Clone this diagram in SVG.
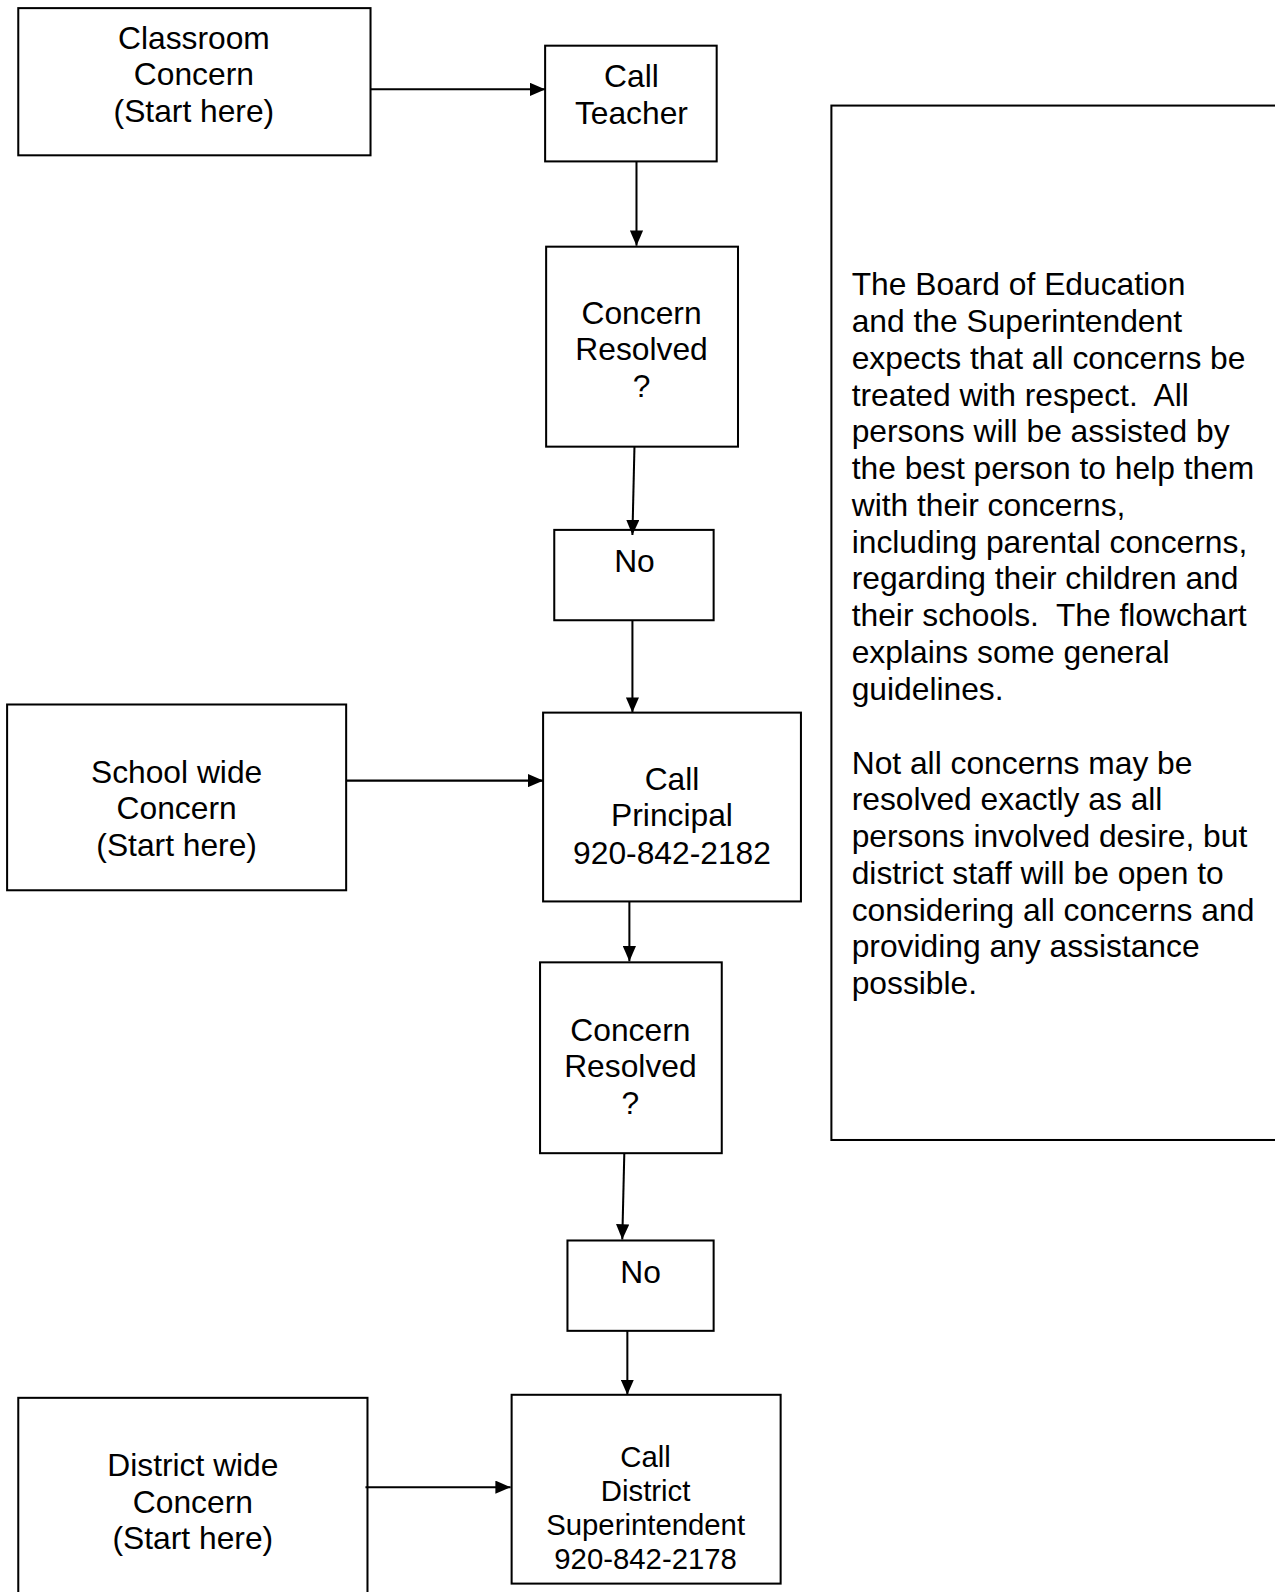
<svg xmlns="http://www.w3.org/2000/svg" width="1275" height="1592" viewBox="0 0 1275 1592">
<style>
.box{fill:#fff;stroke:#000;stroke-width:2}
.t{font-family:"Liberation Sans",Arial,sans-serif;font-size:31.3px;fill:#000;text-anchor:middle}
.s{font-size:28.9px}
.p{font-family:"Liberation Sans",Arial,sans-serif;font-size:31.3px;fill:#000;white-space:pre}
.c{stroke:#000;stroke-width:2;fill:none;marker-end:url(#ah)}
</style>
<defs>
<marker id="ah" markerWidth="15" markerHeight="13" refX="15" refY="6.5" orient="auto" markerUnits="userSpaceOnUse"><path d="M0,0 L15,6.5 L0,13 z" fill="#000"/></marker>
</defs>
<rect width="1275" height="1592" fill="#fff"/>
<g transform="scale(1.01513)">
<g id="classroom"><rect class="box" x="18" y="8" width="347" height="145"/>
<text class="t" x="191" y="48">Classroom</text><text class="t" x="191" y="84">Concern</text><text class="t" x="191" y="120">(Start here)</text></g>
<g id="teacher"><rect class="box" x="537" y="45" width="169" height="114"/>
<text class="t" x="622" y="86">Call</text><text class="t" x="622" y="122">Teacher</text></g>
<g id="resolved1"><rect class="box" x="538" y="243" width="189" height="197"/>
<text class="t" x="632" y="319">Concern</text><text class="t" x="632" y="355">Resolved</text><text class="t" x="632" y="391">?</text></g>
<g id="no1"><rect class="box" x="546" y="522" width="157" height="89"/>
<text class="t" x="625" y="563">No</text></g>
<g id="schoolwide"><rect class="box" x="7" y="694" width="334" height="183"/>
<text class="t" x="174" y="771">School wide</text><text class="t" x="174" y="807">Concern</text><text class="t" x="174" y="843">(Start here)</text></g>
<g id="principal"><rect class="box" x="535" y="702" width="254" height="186"/>
<text class="t" x="662" y="778">Call</text><text class="t" x="662" y="814">Principal</text><text class="t" x="662" y="851">920-842-2182</text></g>
<g id="resolved2"><rect class="box" x="532" y="948" width="179" height="188"/>
<text class="t" x="621" y="1025">Concern</text><text class="t" x="621" y="1061">Resolved</text><text class="t" x="621" y="1097">?</text></g>
<g id="no2"><rect class="box" x="559" y="1222" width="144" height="89"/>
<text class="t" x="631" y="1264">No</text></g>
<g id="districtwide"><rect class="box" x="18" y="1377" width="344" height="220"/>
<text class="t" x="190" y="1454">District wide</text><text class="t" x="190" y="1490">Concern</text><text class="t" x="190" y="1526">(Start here)</text></g>
<g id="superintendent"><rect class="box" x="504" y="1374" width="265" height="186"/>
<text class="t s" x="636" y="1445">Call</text><text class="t s" x="636" y="1479">District</text><text class="t s" x="636" y="1512">Superintendent</text><text class="t s" x="636" y="1546">920-842-2178</text></g>
<g id="note"><rect class="box" x="819" y="104" width="480" height="1019"/>
<text class="p" xml:space="preserve"><tspan x="839" y="291">The Board of Education</tspan><tspan x="839" y="327.2">and the Superintendent</tspan><tspan x="839" y="363.4">expects that all concerns be</tspan><tspan x="839" y="399.6">treated with respect.  All</tspan><tspan x="839" y="435.8">persons will be assisted by</tspan><tspan x="839" y="472">the best person to help them</tspan><tspan x="839" y="508.2">with their concerns,</tspan><tspan x="839" y="544.4">including parental concerns,</tspan><tspan x="839" y="580.6">regarding their children and</tspan><tspan x="839" y="616.8">their schools.  The flowchart</tspan><tspan x="839" y="653">explains some general</tspan><tspan x="839" y="689.2">guidelines.</tspan><tspan x="839" y="762">Not all concerns may be</tspan><tspan x="839" y="798.2">resolved exactly as all</tspan><tspan x="839" y="834.4">persons involved desire, but</tspan><tspan x="839" y="870.6">district staff will be open to</tspan><tspan x="839" y="906.8">considering all concerns and</tspan><tspan x="839" y="943">providing any assistance</tspan><tspan x="839" y="979.2">possible.</tspan></text></g>
<g id="connectors">
<line class="c" x1="365" y1="88" x2="537" y2="88"/>
<line class="c" x1="627" y1="159" x2="627" y2="242"/>
<line class="c" x1="625" y1="440" x2="623" y2="527"/>
<line class="c" x1="623" y1="611" x2="623" y2="702"/>
<line class="c" x1="341" y1="769" x2="535" y2="769"/>
<line class="c" x1="620" y1="888" x2="620" y2="947"/>
<line class="c" x1="615" y1="1136" x2="613" y2="1221"/>
<line class="c" x1="618" y1="1311" x2="618" y2="1374"/>
<line class="c" x1="360" y1="1465" x2="503" y2="1465"/>
</g>
</g>
</svg>
